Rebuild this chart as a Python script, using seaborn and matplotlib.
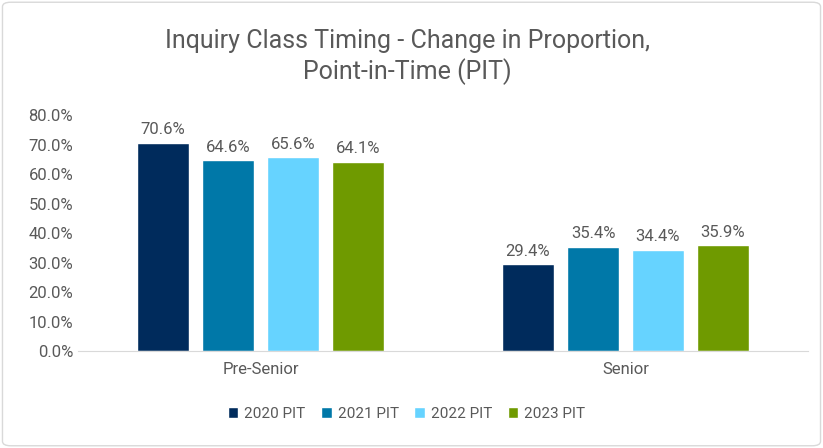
import matplotlib
matplotlib.use("Agg")
import matplotlib.pyplot as plt
import seaborn as sns
import pandas as pd
from matplotlib.patches import FancyBboxPatch

categories = ["Pre-Senior", "Senior"]
series = ["2020 PIT", "2021 PIT", "2022 PIT", "2023 PIT"]
values = {
    "2020 PIT": [70.6, 29.4],
    "2021 PIT": [64.6, 35.4],
    "2022 PIT": [65.6, 34.4],
    "2023 PIT": [64.1, 35.9],
}
colors = ["#002B5C", "#0078A8", "#66D3FF", "#6F9A00"]

rows = [(c, s, values[s][i]) for s in series for i, c in enumerate(categories)]
df = pd.DataFrame(rows, columns=["cat", "series", "val"])

sns.set_style("white")
plt.rcParams["font.family"] = ["Roboto", "DejaVu Sans"]
fig = plt.figure(figsize=(8.23, 4.48), dpi=100)
ax = fig.add_axes([78/823, 1-351/448, 730/823, 236/448])
sns.barplot(data=df, x="cat", y="val", hue="series", palette=colors, saturation=1,
            width=0.712, gap=0.21, ax=ax, legend=True)
for cont in ax.containers:
    ax.bar_label(cont, fmt="%.1f%%", padding=4, fontsize=12, color="#595959")
ax.set_ylim(0, 80)
ax.set_xlim(-0.5, 1.5)
ax.set_yticks(range(0, 81, 10))
ax.set_yticklabels([f"{v:.1f}%" for v in range(0, 81, 10)], fontsize=12, color="#595959")
ax.tick_params(axis="x", labelsize=12, labelcolor="#595959", length=0, pad=8)
ax.tick_params(axis="y", length=0)
ax.set_xlabel(""); ax.set_ylabel("")
for s in ["top", "right", "left"]:
    ax.spines[s].set_visible(False)
ax.spines["bottom"].set_color("#D9D9D9")
ax.legend(loc="center", bbox_to_anchor=(0.45, -0.265), ncol=4, frameon=False,
          fontsize=11, labelcolor="#595959", handlelength=0.7, handleheight=0.7,
          columnspacing=1.0, handletextpad=0.4)
fig.text(0.495, 0.935, "Inquiry Class Timing - Change in Proportion,\nPoint-in-Time (PIT)",
         ha="center", va="top", fontsize=18, color="#595959", linespacing=1.25)
fig.patches.append(FancyBboxPatch((0.003, 0.005), 0.994, 0.99, boxstyle="round,pad=0,rounding_size=0.01",
                                  transform=fig.transFigure, fill=False, edgecolor="#D9D9D9", lw=1))
fig.savefig("out.png", dpi=100)
